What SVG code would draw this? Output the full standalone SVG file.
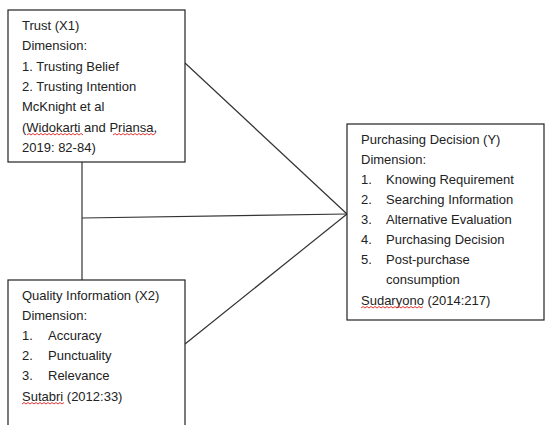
<svg xmlns="http://www.w3.org/2000/svg" width="545" height="425" viewBox="0 0 545 425">
<style>
.box{fill:#fff;stroke:#222;stroke-width:1.2}
.t{font-family:"Liberation Sans",Arial,sans-serif;font-size:13px;fill:#222}
.c{stroke:#333;stroke-width:1.2;fill:none}
.sq{stroke:#e02020;stroke-width:0.9;fill:none}
</style>
<rect width="545" height="425" fill="#fff"/>
<g id="connectors">
<line class="c" x1="82" y1="162" x2="82" y2="280"/>
<line class="c" x1="82" y1="218" x2="347" y2="214"/>
<line class="c" x1="185" y1="63" x2="347" y2="214"/>
<line class="c" x1="185" y1="344" x2="347" y2="214"/>
</g>
<g id="trust">
<rect class="box" x="8" y="10" width="177" height="152"/>
<text class="t" x="22" y="29.5">Trust (X1)</text>
<text class="t" x="22" y="50">Dimension:</text>
<text class="t" x="22" y="70.5">1. Trusting Belief</text>
<text class="t" x="22" y="90.5">2. Trusting Intention</text>
<text class="t" x="22" y="111">McKnight et al</text>
<text class="t" x="22" y="131.5">(Widokarti and Priansa,</text>
<text class="t" x="22" y="151.5">2019: 82-84)</text>
<path class="sq" d="M27 135 l2 -1.5 l2 1.5 l2 -1.5 l2 1.5 l2 -1.5 l2 1.5 l2 -1.5 l2 1.5 l2 -1.5 l2 1.5 l2 -1.5 l2 1.5 l2 -1.5 l2 1.5 l2 -1.5 l2 1.5 l2 -1.5 l2 1.5 l2 -1.5 l2 1.5 l2 -1.5 l2 1.5 l2 -1.5 l2 1.5 l2 -1.5 l2 1.5 l2 -1.5 l2 1.5"/>
<path class="sq" d="M113 135 l2 -1.5 l2 1.5 l2 -1.5 l2 1.5 l2 -1.5 l2 1.5 l2 -1.5 l2 1.5 l2 -1.5 l2 1.5 l2 -1.5 l2 1.5 l2 -1.5 l2 1.5 l2 -1.5 l2 1.5 l2 -1.5 l2 1.5 l2 -1.5 l2 1.5 l2 -1.5"/>
</g>
<g id="quality">
<rect class="box" x="8" y="280" width="177" height="160"/>
<text class="t" x="22" y="299.5">Quality Information (X2)</text>
<text class="t" x="22" y="319.5">Dimension:</text>
<text class="t" x="22" y="339.5">1.</text><text class="t" x="48" y="339.5">Accuracy</text>
<text class="t" x="22" y="360">2.</text><text class="t" x="48" y="360">Punctuality</text>
<text class="t" x="22" y="380">3.</text><text class="t" x="48" y="380">Relevance</text>
<text class="t" x="22" y="400.5">Sutabri (2012:33)</text>
<path class="sq" d="M22 404 l2 -1.5 l2 1.5 l2 -1.5 l2 1.5 l2 -1.5 l2 1.5 l2 -1.5 l2 1.5 l2 -1.5 l2 1.5 l2 -1.5 l2 1.5 l2 -1.5 l2 1.5 l2 -1.5 l2 1.5 l2 -1.5 l2 1.5 l2 -1.5 l2 1.5 l2 -1.5"/>
</g>
<g id="decision">
<rect class="box" x="347" y="124" width="197" height="196"/>
<text class="t" x="361" y="143.5">Purchasing Decision (Y)</text>
<text class="t" x="361" y="163.5">Dimension:</text>
<text class="t" x="361" y="183.5">1.</text><text class="t" x="386" y="183.5">Knowing Requirement</text>
<text class="t" x="361" y="204">2.</text><text class="t" x="386" y="204">Searching Information</text>
<text class="t" x="361" y="224">3.</text><text class="t" x="386" y="224">Alternative Evaluation</text>
<text class="t" x="361" y="243.5">4.</text><text class="t" x="386" y="243.5">Purchasing Decision</text>
<text class="t" x="361" y="264">5.</text><text class="t" x="386" y="264">Post-purchase</text>
<text class="t" x="386" y="284">consumption</text>
<text class="t" x="361" y="305">Sudaryono (2014:217)</text>
<path class="sq" d="M361 308 l2 -1.5 l2 1.5 l2 -1.5 l2 1.5 l2 -1.5 l2 1.5 l2 -1.5 l2 1.5 l2 -1.5 l2 1.5 l2 -1.5 l2 1.5 l2 -1.5 l2 1.5 l2 -1.5 l2 1.5 l2 -1.5 l2 1.5 l2 -1.5 l2 1.5 l2 -1.5 l2 1.5 l2 -1.5 l2 1.5 l2 -1.5 l2 1.5 l2 -1.5 l2 1.5 l2 -1.5 l2 1.5 l2 -1.5"/>
</g>
</svg>
